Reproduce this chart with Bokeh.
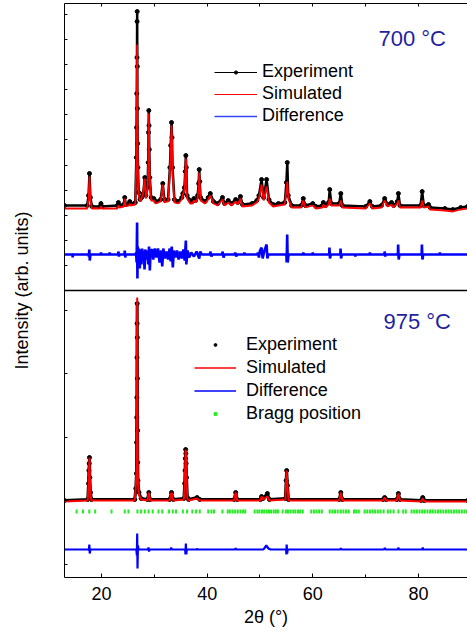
import math
from bokeh.plotting import figure
from bokeh.models import (Range1d, LinearAxis, FixedTicker, SingleIntervalTicker,
                          Span, Label, Legend, LegendItem)
from bokeh.embed import file_html
from bokeh.resources import INLINE

FONT = "Liberation Sans"
NAN = float("nan")

# ---------------- 700 C pattern (upper panel) ----------------
top_tt = [13.0, 17.3, 17.55, 17.73, 17.9, 18.2, 19.7, 19.9, 20.1, 23.0, 23.2, 23.4,
          24.2, 24.4, 24.6, 25.2, 25.35, 25.5, 26.4, 26.6, 26.64, 26.68, 26.72, 26.74,
          26.76, 26.78, 26.8, 26.84, 26.9, 27.05, 27.3, 27.6, 27.9, 28.2, 28.4, 28.7,
          28.85, 28.9, 28.96, 29.0, 29.05, 29.15, 29.4, 29.9, 30.3, 31.2, 31.6, 31.9,
          32.6, 32.95, 33.1, 33.26, 33.35, 33.45, 33.8, 34.5, 35.2, 35.4, 35.7, 35.85,
          35.97, 36.05, 36.2, 36.8, 37.2, 37.5, 37.8, 38.2, 38.4, 38.5, 38.6, 38.75,
          39.6, 40.2, 40.6, 41.2, 42.0, 42.9, 43.3, 44.0, 44.6, 45.4, 45.8, 46.3,
          46.7, 48.5, 49.4, 49.8, 50.3, 50.7, 51.25, 51.7, 52.5, 53.5, 54.7, 55.0,
          55.17, 55.35, 56.0, 57.8, 58.2, 58.6, 60.0, 60.6, 61.8, 62.0, 62.4, 63.0,
          63.2, 63.5, 65.0, 65.3, 65.6, 70.0, 70.8, 71.3, 73.0, 73.6, 74.2, 74.9,
          75.3, 76.0, 76.2, 76.5, 80.4, 80.7, 81.0, 81.9, 82.2, 85.0, 86.5, 88.0, 89.3]
top_exp = [2, 2, 12, 34, 10, 1, 1, 4, 1, 2, 5, 2,
           3, 10, 3, 4, 6, 4, 5, 50, 80, 114, 150, 186,
           196, 141, 99, 64, 40, 15, 8, 10, 14, 30, 12, 20,
           45, 75, 97, 82, 58, 30, 10, 9, 6, 8, 24, 8,
           8, 40, 62, 85, 70, 40, 8, 6, 10, 14, 20, 36,
           52, 40, 12, 7, 6, 9, 7, 12, 24, 38, 26, 10,
           6, 10, 14, 6, 4, 10, 4, 7, 4, 8, 5, 11,
           3, 4, 7, 12, 28, 10, 28, 8, 3, 4, 5, 25,
           45, 12, 2, 2, 9, 2, 4, 1, 2, 5, 2, 5,
           18, 4, 4, 14, 2, 1, 6, 1, 2, 9, 3, 5,
           2, 6, 14, 2, 2, 16, 2, 3, 0, -1, -2, 0, 1]
top_sim = [0, 0, 10, 32, 8, 0, 0, 2, 0, 0, 3, 1,
           2, 10, 2, 3, 5, 3, 4, 45, 75, 105, 140, 158,
           164, 135, 95, 60, 35, 14, 7, 10, 16, 30, 10, 18,
           42, 72, 95, 80, 55, 28, 8, 8, 5, 7, 24, 6,
           7, 36, 60, 83, 68, 36, 6, 5, 9, 14, 18, 34,
           50, 38, 10, 5, 5, 8, 6, 10, 22, 36, 24, 8,
           5, 9, 13, 5, 3, 9, 3, 6, 3, 7, 4, 10,
           2, 3, 6, 10, 24, 8, 22, 6, 2, 3, 4, 18,
           27, 10, 1, 1, 8, 1, 3, 0, 1, 4, 1, 4,
           10, 3, 3, 8, 1, 0, 5, 0, 1, 8, 2, 4,
           1, 5, 8, 1, 1, 8, 1, 2, -1, -2, -3, -1, 0]
top_diff_tt = [13.0, 14.5, 14.55, 14.6, 17.55, 17.6, 17.7, 17.78, 17.9, 19.85, 19.9, 20.0,
               21.5, 21.55, 21.6, 23.15, 23.2, 23.3, 23.4, 24.35, 24.4, 24.5, 24.6, 26.5,
               26.55, 26.65, 26.74, 26.8, 26.88, 26.96, 27.1, 27.25, 27.4, 27.55, 27.7, 27.85,
               28.0, 28.15, 28.3, 28.5, 28.7, 28.85, 29.0, 29.15, 29.3, 29.6, 29.8, 30.1,
               30.4, 30.7, 31.0, 31.3, 31.5, 31.7, 32.0, 32.3, 32.6, 32.9, 33.1, 33.3,
               33.5, 33.7, 34.0, 34.3, 34.6, 34.9, 35.2, 35.5, 35.75, 35.97, 36.05, 36.3,
               36.6, 37.0, 37.5, 38.0, 38.5, 38.7, 39.0, 40.55, 40.6, 40.8, 41.0, 42.85,
               42.9, 43.1, 43.3, 45.25, 45.3, 45.5, 45.7, 47.0, 47.05, 47.1, 49.55, 49.6,
               49.8, 50.0, 50.3, 50.5, 50.8, 51.25, 51.4, 51.6, 55.0, 55.05, 55.15, 55.25,
               55.4, 58.15, 58.2, 58.3, 59.95, 60.0, 60.1, 63.1, 63.15, 63.25, 63.4, 65.2,
               65.25, 65.35, 65.5, 68.0, 68.05, 68.1, 70.75, 70.8, 70.9, 73.55, 73.6, 73.7,
               73.8, 76.1, 76.15, 76.25, 76.4, 80.6, 80.65, 80.75, 80.9, 84.0, 84.05, 84.1,
               89.3]
top_diff = [0, 0, -3, 0, 0, -2, 5, -6, 0, 0, 2, 0,
            0, 2, 0, 0, 3, -2, 0, 0, 4, -3, 0, 0,
            2, -8, 32, -24, 8, -10, 6, -14, 5, -10, 6, -6,
            4, -15, 5, -5, 4, -10, 8, -16, 4, 5, -5, 6,
            -3, 6, -8, 4, -12, 6, -4, 3, -5, 6, -7, 8,
            -13, 4, -3, 4, -5, 3, -4, 5, -6, 14, -10, 4,
            -3, 2, -2, 3, -4, 3, 0, 0, 3, -2, 0, 0,
            3, -3, 0, 0, 2, -2, 0, 0, 2, 0, 0, 2,
            -3, 4, 7, -4, 3, 10, -4, 0, 0, -8, 20, -8,
            0, 0, 2, 0, 0, 2, 0, 0, 7, -4, 0, 0,
            6, -4, 0, 0, -2, 0, 0, 2, 0, 0, 3, -2,
            0, 0, 10, -5, 0, 0, 10, -5, 0, 0, 2, 0,
            0]

# ---------------- 975 C pattern (lower panel) ----------------
bot_tt = [13.0, 17.4, 17.55, 17.62, 17.68, 17.73, 17.8, 17.92, 18.1, 26.3, 26.5, 26.62,
          26.65, 26.68, 26.7, 26.72, 26.74, 26.76, 26.78, 26.8, 26.83, 26.86, 26.9, 27.1,
          27.5, 28.7, 28.96, 29.2, 32.9, 33.26, 33.6, 35.6, 35.75, 35.82, 35.88, 35.93,
          35.97, 36.02, 36.1, 36.25, 36.5, 38.1, 38.6, 45.1, 45.4, 45.7, 50.1, 50.3,
          50.6, 51.4, 51.8, 54.8, 54.95, 55.05, 55.2, 55.4, 65.0, 65.3, 65.6, 73.3,
          73.6, 73.9, 75.9, 76.2, 76.5, 80.5, 80.8, 81.1, 89.3]
bot_exp = [0, 1, 17, 30, 37, 43, 23, 8, 1, 1, 12, 27,
           58, 83, 103, 143, 177, 197, 163, 122, 70, 38, 20, 8,
           2, 1, 8, 1, 1, 8, 1, 2, 17, 30, 42, 51,
           47, 37, 23, 3, 1, 3, 1, 1, 8, 1, 1, 4,
           2, 7, 1, 2, 20, 30, 15, 1, 1, 8, 1, 1,
           3, 1, 1, 7, 1, 0, 3, 0, 0]
bot_sim = [-1, 0, 15, 28, 36, 43, 22, 7, 0, 0, 14, 30,
           60, 90, 110, 150, 185, 203, 170, 125, 72, 38, 18, 6,
           1, 0, 8, 0, 0, 8, 0, 1, 17, 30, 42, 51,
           49, 37, 22, 2, 0, 2, 0, 0, 8, 0, 0, 4,
           1, 4, 0, 1, 20, 30, 15, 0, 0, 8, 0, 0,
           3, 0, 0, 7, 0, -1, 2, -1, -1]
bot_diff_tt = [13.0, 17.55, 17.6, 17.7, 17.78, 17.9, 26.6, 26.7, 26.76, 26.82, 26.9, 27.0,
               28.85, 28.9, 29.0, 29.1, 33.15, 33.2, 33.3, 35.85, 35.9, 35.97, 36.05, 36.15,
               38.05, 38.1, 38.2, 45.35, 45.4, 45.5, 50.6, 50.8, 51.2, 51.6, 52.0, 54.95,
               55.0, 55.05, 55.15, 55.25, 65.25, 65.3, 65.4, 73.5, 73.6, 73.8, 76.15, 76.2,
               76.3, 80.75, 80.8, 80.9, 89.3]
bot_diff = [0, 0, -1, 5, -4, 0, 0, -6, 16, -19, 4, 0,
            0, 2, -2, 0, 0, 2, 0, 0, -5, 6, -5, 0,
            0, 1, 0, 0, 1.5, 0, 0, 1, 4, 1, 0, 0,
            -5, 5, -4, 0, 0, 1.5, 0, 0, 1.5, 0, 0, 2,
            0, 0, 2, 0, 0]
bragg_tt = [15.3, 16.5, 17.7, 18.8, 21.9, 24.4, 25.1, 26.8, 27.5, 28.2, 28.9, 29.7,
            30.8, 31.5, 32.8, 33.5, 34.1, 35.4, 36.2, 37.2, 37.9, 38.6, 40.2, 40.8,
            41.3, 42.9, 43.9, 44.3, 44.8, 45.3, 45.8, 46.3, 46.8, 47.2, 49.0, 49.5,
            49.9, 50.4, 50.8, 51.3, 51.7, 52.1, 52.6, 53.0, 53.4, 54.3, 54.9, 55.3,
            55.8, 56.3, 56.7, 57.2, 57.6, 58.1, 59.7, 60.2, 60.7, 61.2, 61.7, 63.2,
            63.7, 64.2, 64.7, 65.3, 65.8, 66.3, 66.8, 67.8, 68.2, 68.7, 69.8, 70.3,
            70.8, 71.3, 71.8, 72.3, 72.8, 73.4, 74.2, 74.7, 75.3, 76.2, 77.1, 77.6,
            78.7, 79.2, 79.7, 80.2, 80.7, 81.2, 81.7, 82.2, 82.7, 83.2, 83.7, 84.2,
            84.7, 85.2, 85.7, 86.2, 86.7, 87.2, 87.7, 88.2, 88.7, 89.2]

x_ticks_minor = [20, 30, 40, 50, 60, 70, 80]
y_ticks = [13.5, 77, 140.5, 204, 267.5, 312, 337, 362, 387, 412, 438, 463, 488, 513, 538, 563]

# vertical stacking offsets (layout)
TOP_EXP_BASE = 370
TOP_DIFF_BASE = 323
BOT_EXP_BASE = 77
BOT_BRAGG_Y = 66
BOT_DIFF_BASE = 28
PANEL_SPLIT = 287

BLACK, RED, BLUE, GREEN = "#000000", "#ff0000", "#0000ff", "#22ee22"


def shift(vals, base):
    return [base + v for v in vals]


p = figure(width=467, height=630, x_range=Range1d(13.0, 89.28), y_range=Range1d(0, 574),
           x_axis_type=None, y_axis_type=None, output_backend="svg", toolbar_location=None,
           min_border_left=64, min_border_right=0, min_border_top=3, min_border_bottom=53,
           outline_line_color=None)
p.background_fill_color = "white"

# upper panel
p.line(top_tt, shift(top_exp, TOP_EXP_BASE), line_color=BLACK, line_width=2.5)
p.scatter(top_tt, shift(top_exp, TOP_EXP_BASE), marker="circle", size=4, color=BLACK)
p.line(top_tt, shift(top_sim, TOP_EXP_BASE - 1), line_color=RED, line_width=1.8)
p.line(top_diff_tt, shift(top_diff, TOP_DIFF_BASE), line_color=BLUE, line_width=2.6)

# lower panel
p.line(bot_tt, shift(bot_exp, BOT_EXP_BASE), line_color=BLACK, line_width=3)
p.scatter(bot_tt, shift(bot_exp, BOT_EXP_BASE), marker="circle", size=4, color=BLACK)
p.line(bot_tt, shift(bot_sim, BOT_EXP_BASE), line_color=RED, line_width=2)
p.scatter(bragg_tt, [BOT_BRAGG_Y] * len(bragg_tt), marker="dash", angle=math.pi / 2,
          size=4, line_width=2, line_color=GREEN)
p.line(bot_diff_tt, shift(bot_diff, BOT_DIFF_BASE), line_color=BLUE, line_width=2.2)

p.add_layout(Span(location=PANEL_SPLIT, dimension="width", line_color=BLACK, line_width=1.5))

# axes
xb = LinearAxis(ticker=SingleIntervalTicker(interval=20, num_minor_ticks=2),
                axis_label="2\u03b8 (\u00b0)")
xt = LinearAxis(ticker=FixedTicker(ticks=[], minor_ticks=x_ticks_minor))
yl = LinearAxis(ticker=FixedTicker(ticks=[], minor_ticks=y_ticks),
                axis_label="Intensity (arb. units)")
for ax in (xb, xt, yl):
    ax.major_tick_in = 4
    ax.major_tick_out = 0
    ax.minor_tick_in = 3
    ax.minor_tick_out = 0
    ax.axis_line_color = BLACK
    ax.major_tick_line_color = BLACK
    ax.minor_tick_line_color = BLACK
    ax.axis_label_text_font = FONT
    ax.axis_label_text_font_size = "18px"
    ax.axis_label_text_font_style = "normal"
    ax.axis_label_text_color = BLACK
    ax.major_label_text_font = FONT
    ax.major_label_text_color = BLACK
    ax.major_label_text_font_size = "18px"
xb.major_label_standoff = 9
xb.axis_label_standoff = 4
xt.major_label_standoff = 0
yl.major_label_standoff = 0
yl.axis_label_standoff = 33
p.add_layout(xb, "below")
p.add_layout(xt, "above")
p.add_layout(yl, "left")

# temperature labels
p.add_layout(Label(x=72.43, y=539, text="700 \u00b0C", text_font=FONT, text_font_size="22px",
                   text_color="#1f1f9f", text_baseline="alphabetic"))
p.add_layout(Label(x=73.38, y=256.5, text="975 \u00b0C", text_font=FONT, text_font_size="22px",
                   text_color="#1f1f9f", text_baseline="alphabetic"))

# legend proxies (no visible data)
t_el = p.line([NAN], [NAN], line_color=BLACK, line_width=1.2)
t_ed = p.scatter([NAN], [NAN], marker="circle", size=4, color=BLACK)
t_s = p.line([NAN], [NAN], line_color=RED, line_width=1.2)
t_d = p.line([NAN], [NAN], line_color="#3344ff", line_width=1.4)
b_ed = p.scatter([NAN], [NAN], marker="circle", size=4.5, color=BLACK)
b_s = p.line([NAN], [NAN], line_color=RED, line_width=1.5)
b_d = p.line([NAN], [NAN], line_color=BLUE, line_width=1.5)
b_b = p.scatter([NAN], [NAN], marker="square", size=3, color=GREEN)

common = dict(border_line_color=None, background_fill_alpha=0, padding=0, margin=0,
              label_height=20, label_text_font=FONT,
              label_text_font_size="18px", label_text_color=BLACK)
leg_top = Legend(items=[LegendItem(label="Experiment", renderers=[t_el, t_ed]),
                        LegendItem(label="Simulated", renderers=[t_s]),
                        LegendItem(label="Difference", renderers=[t_d])],
                 location=(150, 451), glyph_width=43, glyph_height=8, label_standoff=5,
                 spacing=1, **common)
leg_bot = Legend(items=[LegendItem(label="Experiment", renderers=[b_ed]),
                        LegendItem(label="Simulated", renderers=[b_s]),
                        LegendItem(label="Difference", renderers=[b_d]),
                        LegendItem(label="Bragg position", renderers=[b_b])],
                 location=(130, 153), glyph_width=42, glyph_height=7, label_standoff=10,
                 spacing=2, **common)
p.add_layout(leg_top, "center")
p.add_layout(leg_bot, "center")

open("out.html", "w").write(file_html(p, INLINE))
